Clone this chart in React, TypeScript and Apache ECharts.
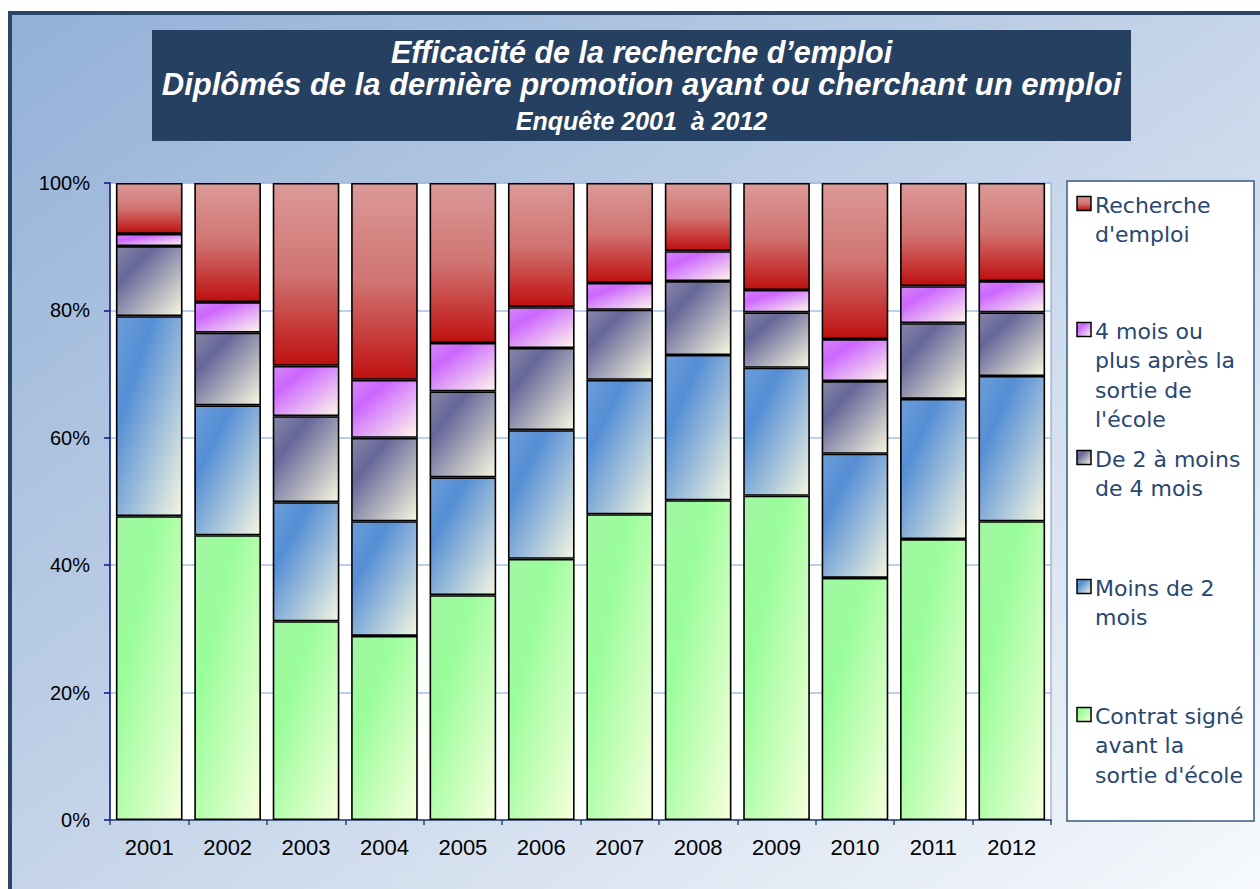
import React, { useEffect, useRef } from "react";
import * as echarts from "echarts";

const years = ["2001", "2002", "2003", "2004", "2005", "2006", "2007", "2008", "2009", "2010", "2011", "2012"];

const contratSigne = [47.7, 44.7, 31.2, 28.9, 35.3, 41.0, 48.0, 50.2, 50.9, 38.0, 44.1, 46.9];
const moinsDe2Mois = [31.4, 20.4, 18.7, 18.0, 18.5, 20.2, 21.1, 22.8, 20.1, 19.5, 22.0, 22.8];
const de2a4Mois = [11.0, 11.4, 13.5, 13.1, 13.5, 12.9, 11.0, 11.6, 8.7, 11.4, 11.9, 10.0];
const quatreMoisPlus = [1.9, 4.8, 7.9, 9.1, 7.6, 6.4, 4.2, 4.7, 3.5, 6.6, 5.8, 4.9];
const rechercheEmploi = [8.0, 18.7, 28.7, 30.9, 25.1, 19.5, 15.7, 10.7, 16.8, 24.5, 16.2, 15.4];

const seriesNames = [
  "Contrat signé avant la sortie d'école",
  "Moins de 2 mois",
  "De 2 à moins de 4 mois",
  "4 mois ou plus après la sortie de l'école",
  "Recherche d'emploi",
];

// legend labels, top to bottom, as wrapped in the reference
const legendLabels = [
  ["Recherche", "d'emploi"],
  ["4 mois ou", "plus après la", "sortie de", "l'école"],
  ["De 2 à moins", "de 4 mois"],
  ["Moins de 2", "mois"],
  ["Contrat signé", "avant la", "sortie d'école"],
];

const titleLines = [
  "Efficacité de la recherche d’emploi",
  "Diplômés de la dernière promotion ayant ou cherchant un emploi",
  "Enquête 2001  à 2012",
];

const lg = (stops: [number, string][], x2 = 1, y2 = 1) =>
  new echarts.graphic.LinearGradient(
    0,
    0,
    x2,
    y2,
    stops.map(([offset, color]) => ({ offset, color }))
  );

const fills = [
  lg([[0, "#a4f6a4"], [0.3, "#99fd99"], [1, "#f6ffdc"]]),
  lg([[0, "#6d9dd8"], [0.28, "#558ed5"], [1, "#f4f6e0"]]),
  lg([[0, "#8787a8"], [0.28, "#666699"], [1, "#f8f8e0"]]),
  lg([[0, "#d486f8"], [0.28, "#cc66ff"], [1, "#fff8ea"]]),
  lg([[0, "#dc9a98"], [0.5, "#d07472"], [1, "#bf1010"]], 0, 1),
];

const seriesData = [contratSigne, moinsDe2Mois, de2a4Mois, quatreMoisPlus, rechercheEmploi];

export default function App() {
  const ref = useRef<HTMLDivElement>(null);

  useEffect(() => {
    if (!ref.current) return;
    const chart = echarts.init(ref.current, null, { renderer: "svg" });

    const graphics: any[] = [
      {
        type: "rect",
        z: -10,
        shape: { x: 10, y: 13, width: 1262, height: 890 },
        style: {
          fill: new echarts.graphic.LinearGradient(0, 0, 1, 1, [
            { offset: 0, color: "#92b0d7" },
            { offset: 0.5, color: "#c6d5e9" },
            { offset: 1, color: "#f8fafd" },
          ]),
          stroke: "#2c4669",
          lineWidth: 4,
        },
      },
      {
        type: "rect",
        z: 5,
        shape: { x: 152, y: 30, width: 979, height: 111 },
        style: { fill: "#264061" },
      },
    ];

    const titleY = [52.4, 84.3, 121.4];
    const titleSize = [30.5, 31, 25];
    titleLines.forEach((t, i) => {
      graphics.push({
        type: "text",
        z: 6,
        x: 641.5,
        y: titleY[i],
        style: {
          text: t,
          fill: "#ffffff",
          font: `italic bold ${titleSize[i]}px "Liberation Sans", Arial, sans-serif`,
          align: "center",
          verticalAlign: "middle",
        },
      });
    });

    // legend box
    graphics.push({
      type: "rect",
      z: 5,
      shape: { x: 1067, y: 181, width: 187, height: 640 },
      style: { fill: "#ffffff", stroke: "#3a5a80", lineWidth: 1.5 },
    });
    const firstBaselines = [213, 339, 467, 596, 724];
    const lineH = 29.3;
    legendLabels.forEach((lines, i) => {
      const si = seriesNames.length - 1 - i;
      const b = firstBaselines[i];
      graphics.push({
        type: "rect",
        z: 6,
        shape: { x: 1077, y: b - 16.5, width: 14, height: 14 },
        style: { fill: fills[si], stroke: "#000", lineWidth: 1.5 },
      });
      graphics.push({
        type: "text",
        z: 6,
        x: 1095,
        y: b - lineH / 2 - 7.6,
        style: {
          text: lines.join("\n"),
          fill: "#284770",
          font: `22px "DejaVu Sans", sans-serif`,
          lineHeight: lineH,
          align: "left",
          verticalAlign: "top",
        },
      });
    });

    chart.setOption({
      animation: false,
      backgroundColor: "#ffffff",
      textStyle: { fontFamily: "Liberation Sans, Arial, sans-serif" },
      grid: {
        left: 110,
        right: 209,
        top: 183,
        bottom: 69,
        show: true,
        backgroundColor: "#ffffff",
        borderColor: "#7b98c2",
        borderWidth: 1,
      },
      legend: { show: false, data: seriesNames },
      xAxis: {
        type: "category",
        data: years,
        axisLine: { lineStyle: { color: "#2c4468", width: 1.5 } },
        axisTick: { show: true, length: 5, lineStyle: { color: "#2c4468", width: 1.5 } },
        axisLabel: { fontSize: 22, color: "#000", margin: 16, fontFamily: "Liberation Sans" },
      },
      yAxis: {
        type: "value",
        min: 0,
        max: 100,
        interval: 20,
        axisLine: { show: true, lineStyle: { color: "#10108a", width: 1.5 } },
        axisTick: { show: true, length: 6, lineStyle: { color: "#10108a", width: 1.5 } },
        axisLabel: {
          formatter: "{value}%",
          fontSize: 20,
          color: "#000",
          margin: 20,
          fontFamily: "Liberation Sans",
        },
        splitLine: { show: true, lineStyle: { color: "#a7c1e4", width: 1.5 } },
      },
      series: seriesNames.map((name, i) => ({
        name,
        type: "bar",
        stack: "total",
        barWidth: "85%",
        data: seriesData[i],
        itemStyle: { color: fills[i], borderColor: "#000", borderWidth: 1.6 },
        emphasis: { disabled: true },
      })),
      graphic: { elements: graphics },
    });

    return () => chart.dispose();
  }, []);

  return (
    <div
      ref={ref}
      style={{ position: "absolute", left: 0, top: 0, width: 1260, height: 889 }}
    />
  );
}
